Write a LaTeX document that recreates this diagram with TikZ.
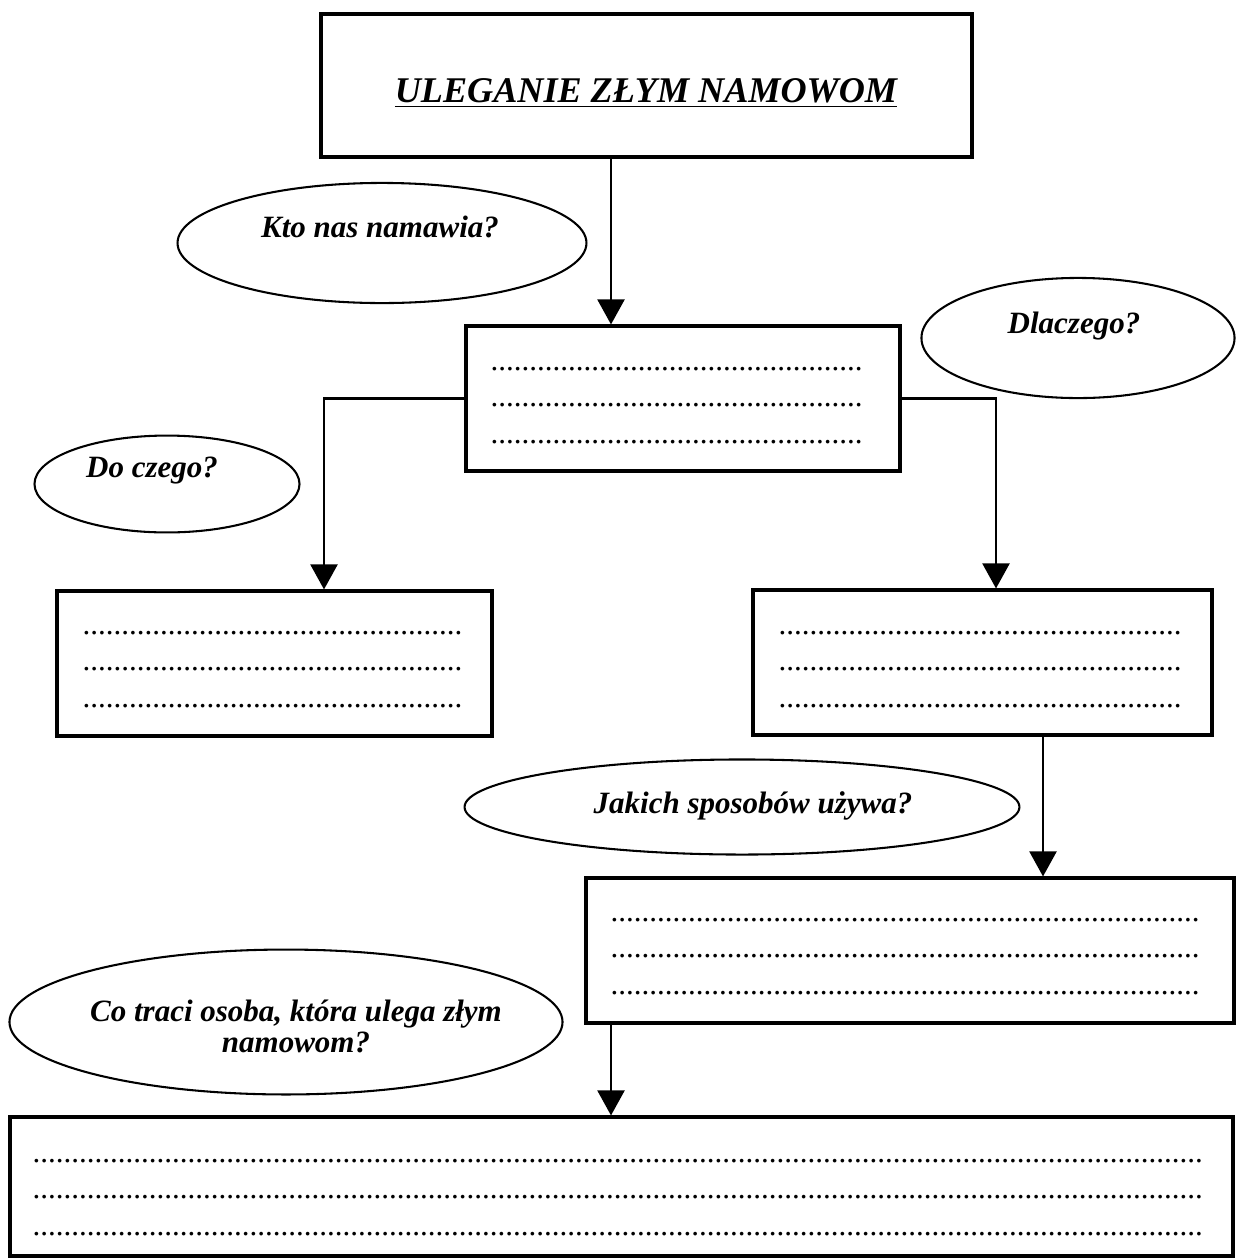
\documentclass[tikz,border=0pt]{standalone}
\usepackage{fontspec}
\setmainfont{Liberation Serif}
\usetikzlibrary{shapes.geometric,arrows.meta,fit}
\newdimen\pxu
\pxu=0.3871pt
\newcommand{\kropki}[1]{\hbox to #1\pxu{\leaders\hbox{.}\hfill}}
\begin{document}
\begin{tikzpicture}[x=0.3871pt,y=-0.3871pt,line join=miter,
  ramka/.style={draw,line width=1.2pt,inner sep=0pt},
  owal/.style={draw,ellipse,line width=0.8pt,inner sep=0pt},
  pytanie/.style={font=\fontsize{12}{12}\selectfont\bfseries\itshape,align=center,inner sep=0pt},
  wiersz/.style={font=\fontsize{12}{14}\selectfont,anchor=base west,inner sep=0pt},
  strzalka/.style={line width=1.1pt,-{Triangle[width=10.4pt,length=9.7pt]}}]
\useasboundingbox (0,0) rectangle (1236,1259);
\path
(611,0) coordinate (osA)
(324,0) coordinate (osB)
(996,0) coordinate (osC)
(1043,0) coordinate (osD)
;
% ramki
\node[ramka,fit={(321,14) (972,157)}] (tytul) {};
\node[ramka,fit={(466,326) (900,471)}] (kto) {};
\node[ramka,fit={(57,591) (492,736)}] (doczego) {};
\node[ramka,fit={(753,590) (1212,735)}] (dlaczego) {};
\node[ramka,fit={(586,878) (1234,1023)}] (sposoby) {};
\node[ramka,fit={(10,1117) (1233,1256)}] (straty) {};
\node[anchor=base,inner sep=0pt,font=\fontsize{14}{16}\selectfont\bfseries\itshape]
  (tytul-t) at (646,102) {\underline{ULEGANIE ZŁYM NAMOWOM}};
% pytania
\node[owal,minimum width=158.3pt,minimum height=46.5pt] (pyt-kto) at (382,243) {};
\node[owal,minimum width=121.2pt,minimum height=46.5pt] (pyt-dlaczego) at (1078,338) {};
\node[owal,minimum width=102.6pt,minimum height=37.5pt] (pyt-doczego) at (167,484) {};
\node[owal,minimum width=214.8pt,minimum height=36.8pt] (pyt-sposoby) at (742,807) {};
\node[owal,minimum width=214.1pt,minimum height=56.1pt] (pyt-straty) at (286,1022) {};
\node[pytanie,anchor=base] (pyt-kto-t) at (380,237) {Kto nas namawia?};
\node[pytanie,anchor=base] (pyt-dlaczego-t) at (1074,333) {Dlaczego?};
\node[pytanie,anchor=base] (pyt-doczego-t) at (152,477) {Do czego?};
\node[pytanie,anchor=base] (pyt-sposoby-t) at (753,813) {Jakich sposobów używa?};
\node[pytanie] (pyt-straty-t) at (296,1026) {Co traci osoba, która ulega złym\\namowom?};
% wiersze kropek
\foreach \b/\x/\y/\w in {kto/490/368/379,doczego/82/632/380,dlaczego/778/632/404,
  sposoby/610/919/596,straty/32/1160/1174}
  \foreach \i in {0,1,2}
    \node[wiersz] (\b-\i) at (\x,\y+36.5*\i+2) {\kropki{\w}};
% strzalki
\draw[strzalka] (tytul.south -| osA) -- (kto.north -| osA);
\draw[strzalka] (kto.west) -| (doczego.north -| osB);
\draw[strzalka] (kto.east) -| (dlaczego.north -| osC);
\draw[strzalka] (dlaczego.south -| osD) -- (sposoby.north -| osD);
\draw[strzalka] (sposoby.south -| osA) -- (straty.north -| osA);
\end{tikzpicture}
\end{document}
